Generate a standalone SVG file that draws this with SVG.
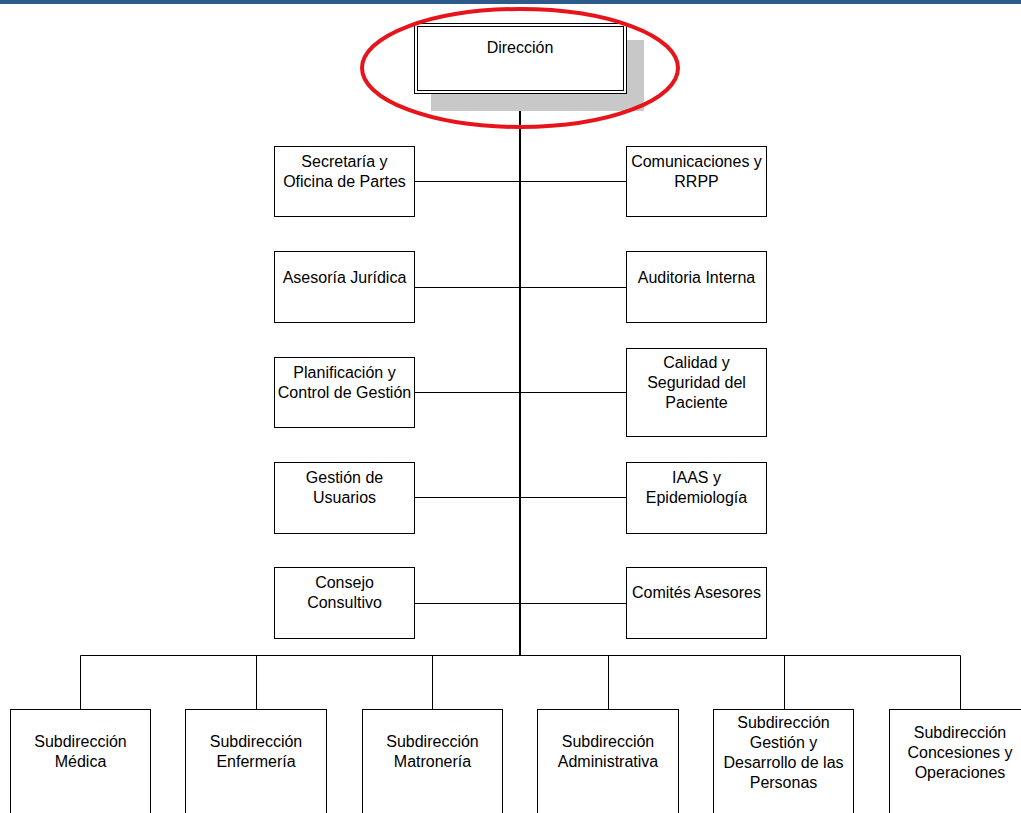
<svg xmlns="http://www.w3.org/2000/svg" width="1021" height="813" viewBox="0 0 1021 813">
<style>
.box{fill:#fff;stroke:#000;stroke-width:1}
.t{font-family:"Liberation Sans",Arial,sans-serif;font-size:16px;fill:#000;text-anchor:middle}
.c{fill:none;stroke:#000;stroke-width:1}
.trunk{fill:none;stroke:#000;stroke-width:2}
</style>
<rect x="0" y="0" width="1021" height="813" fill="#fff"/>
<rect x="0" y="0" width="1021" height="4" fill="#2f5a8c"/>
<g id="connectors">
<line class="trunk" x1="520" y1="93" x2="520" y2="655.5"/>
<line class="c" x1="415" y1="181.5" x2="626" y2="181.5"/>
<line class="c" x1="415" y1="287.5" x2="626" y2="287.5"/>
<line class="c" x1="415" y1="392.5" x2="626" y2="392.5"/>
<line class="c" x1="415" y1="497.5" x2="626" y2="497.5"/>
<line class="c" x1="415" y1="603.5" x2="626" y2="603.5"/>
<polyline class="c" points="80.5,709 80.5,655.5 960.5,655.5 960.5,709"/>
<line class="c" x1="256.5" y1="655.5" x2="256.5" y2="709"/>
<line class="c" x1="432.5" y1="655.5" x2="432.5" y2="709"/>
<line class="c" x1="608.5" y1="655.5" x2="608.5" y2="709"/>
<line class="c" x1="784.5" y1="655.5" x2="784.5" y2="709"/>
</g>
<g id="direccion">
<rect x="431" y="40" width="213" height="71" fill="#c8c8c8"/>
<rect class="box" x="414.5" y="23.5" width="212" height="70"/>
<rect class="box" x="417.5" y="26.5" width="206" height="64"/>
<text class="t" x="520" y="53">Dirección</text>
</g>
<ellipse id="highlight" cx="520" cy="68" rx="158" ry="59" fill="none" stroke="#e8141c" stroke-width="4"/>
<g id="secretaria"><rect class="box" x="274.5" y="146.5" width="140" height="70"/><text class="t" x="344.5" y="167">Secretaría y</text><text class="t" x="344.5" y="187">Oficina de Partes</text></g>
<g id="comunicaciones"><rect class="box" x="626.5" y="146.5" width="140" height="70"/><text class="t" x="696.5" y="167">Comunicaciones y</text><text class="t" x="696.5" y="187">RRPP</text></g>
<g id="asesoria"><rect class="box" x="274.5" y="251.5" width="140" height="71"/><text class="t" x="344.5" y="283">Asesoría Jurídica</text></g>
<g id="auditoria"><rect class="box" x="626.5" y="251.5" width="140" height="71"/><text class="t" x="696.5" y="283">Auditoria Interna</text></g>
<g id="planificacion"><rect class="box" x="274.5" y="357.5" width="140" height="70"/><text class="t" x="344.5" y="378">Planificación y</text><text class="t" x="344.5" y="398">Control de Gestión</text></g>
<g id="calidad"><rect class="box" x="626.5" y="348.5" width="140" height="88"/><text class="t" x="696.5" y="368">Calidad y</text><text class="t" x="696.5" y="388">Seguridad del</text><text class="t" x="696.5" y="408">Paciente</text></g>
<g id="gestion-usuarios"><rect class="box" x="274.5" y="462.5" width="140" height="71"/><text class="t" x="344.5" y="483">Gestión de</text><text class="t" x="344.5" y="503">Usuarios</text></g>
<g id="iaas"><rect class="box" x="626.5" y="462.5" width="140" height="71"/><text class="t" x="696.5" y="483">IAAS y</text><text class="t" x="696.5" y="503">Epidemiología</text></g>
<g id="consejo"><rect class="box" x="274.5" y="567.5" width="140" height="71"/><text class="t" x="344.5" y="588">Consejo</text><text class="t" x="344.5" y="608">Consultivo</text></g>
<g id="comites"><rect class="box" x="626.5" y="567.5" width="140" height="71"/><text class="t" x="696.5" y="598">Comités Asesores</text></g>
<g id="sub-medica"><rect class="box" x="10.5" y="709.5" width="140" height="110"/><text class="t" x="80.5" y="747">Subdirección</text><text class="t" x="80.5" y="767">Médica</text></g>
<g id="sub-enfermeria"><rect class="box" x="185.5" y="709.5" width="141" height="110"/><text class="t" x="256" y="747">Subdirección</text><text class="t" x="256" y="767">Enfermería</text></g>
<g id="sub-matroneria"><rect class="box" x="362.5" y="709.5" width="140" height="110"/><text class="t" x="432.5" y="747">Subdirección</text><text class="t" x="432.5" y="767">Matronería</text></g>
<g id="sub-administrativa"><rect class="box" x="537.5" y="709.5" width="141" height="110"/><text class="t" x="608" y="747">Subdirección</text><text class="t" x="608" y="767">Administrativa</text></g>
<g id="sub-personas"><rect class="box" x="713.5" y="709.5" width="140" height="110"/><text class="t" x="783.5" y="728">Subdirección</text><text class="t" x="783.5" y="748">Gestión y</text><text class="t" x="783.5" y="768">Desarrollo de las</text><text class="t" x="783.5" y="788">Personas</text></g>
<g id="sub-concesiones"><rect class="box" x="889.5" y="709.5" width="141" height="110"/><text class="t" x="960" y="738">Subdirección</text><text class="t" x="960" y="758">Concesiones y</text><text class="t" x="960" y="778">Operaciones</text></g>
</svg>
